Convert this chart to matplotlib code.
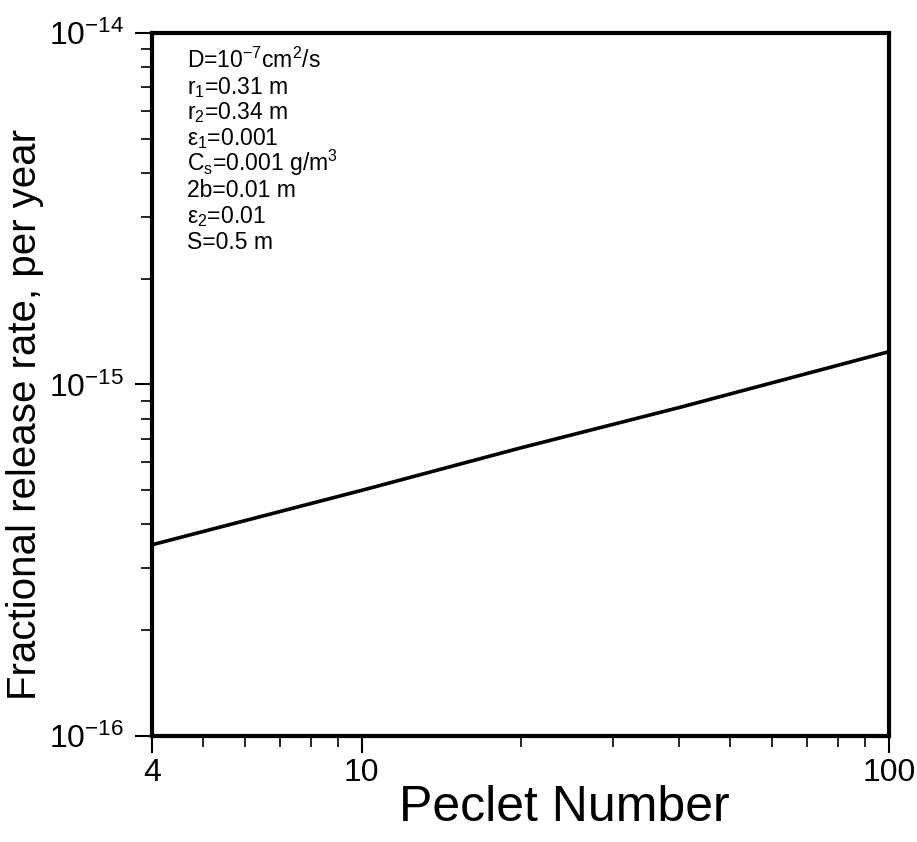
import numpy as np
import matplotlib
matplotlib.use("Agg")
import matplotlib.pyplot as plt
from matplotlib.ticker import FixedLocator, NullFormatter, LogFormatterMathtext

# values
peclet = [4, 10, 20, 40, 100]
release_rate = [3.5e-16, 5.0e-16, 6.6e-16, 8.6e-16, 1.24e-15]

x_ticks = [4, 10, 100]
x_tick_labels = ['4', '10', '100']
x_minor = [5, 6, 7, 8, 9, 20, 30, 40, 50, 60, 70, 80, 90]
y_ticks = [1e-16, 1e-15, 1e-14]
y_minor = [m * 10.0**e for e in (-16, -15) for m in range(2, 10)]

param_lines = [
    r'D=10$^{-7}$cm$^2$/s',
    r'r$_1$=0.31 m',
    r'r$_2$=0.34 m',
    r'ε$_1$=0.001',
    r'C$_\mathrm{s}$=0.001 g/m$^3$',
    r'2b=0.01 m',
    r'ε$_2$=0.01',
    r'S=0.5 m',
]

plt.rcParams['font.family'] = ['Liberation Sans', 'DejaVu Sans']
plt.rcParams['mathtext.fontset'] = 'custom'
plt.rcParams['mathtext.rm'] = 'Liberation Sans'
plt.rcParams['mathtext.it'] = 'Liberation Sans:italic'
plt.rcParams['mathtext.bf'] = 'Liberation Sans:bold'

fig = plt.figure(figsize=(9.17, 8.42), dpi=100)
ax = fig.add_axes([0.1658, 0.1259, 0.8037, 0.8349])

ax.plot(peclet, release_rate, color='black', linewidth=2.6)

ax.set_xscale('log')
ax.set_yscale('log')
ax.set_xlim(4, 100)
ax.set_ylim(1e-16, 1e-14)

ax.xaxis.set_major_locator(FixedLocator(x_ticks))
ax.set_xticklabels(x_tick_labels)
ax.xaxis.set_minor_locator(FixedLocator(x_minor))
ax.xaxis.set_minor_formatter(NullFormatter())
ax.yaxis.set_major_locator(FixedLocator(y_ticks))
ax.yaxis.set_minor_locator(FixedLocator(y_minor))
ax.yaxis.set_major_formatter(LogFormatterMathtext())
ax.yaxis.set_minor_formatter(NullFormatter())

for s in ax.spines.values():
    s.set_linewidth(3)
ax.tick_params(which='major', direction='out', length=12, width=1.5, pad=8)
ax.tick_params(which='minor', direction='out', length=8, width=1.2)
ax.tick_params(axis='x', labelsize=23, pad=4)
ax.tick_params(axis='y', labelsize=23)

ax.set_xlabel('Peclet Number', fontsize=36)
ax.xaxis.set_label_coords(0.559, -0.07)
ax.set_ylabel('Fractional release rate, per year', fontsize=29)
ax.yaxis.set_label_coords(-0.147, 0.457)

# parameter block, one text per line
for i, line in enumerate(param_lines):
    ax.text(0.048, 0.9506 - i * 0.0368, line, transform=ax.transAxes,
            fontsize=16.5, va='baseline', ha='left')

fig.savefig('out.png', dpi=100)
